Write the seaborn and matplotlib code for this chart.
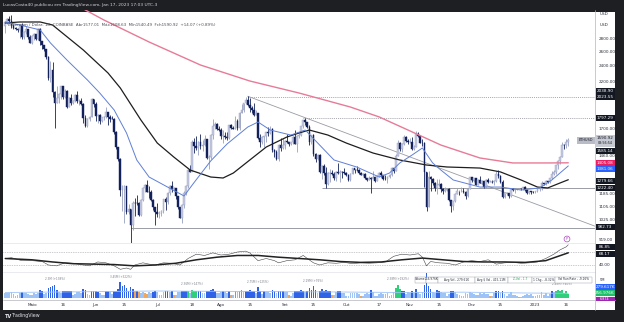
import numpy as np
import pandas as pd
import matplotlib
matplotlib.use("Agg")
import matplotlib.pyplot as plt
import seaborn as sns
from matplotlib.patches import Rectangle
from matplotlib.ticker import NullLocator

sns.set_theme(style="white")
plt.rcParams["font.family"] = ["DejaVu Sans"]

# ---------------- data (ETHUSD daily, 2022-04-18 .. 2023-01-17) ----------------
first_day = "2022-04-18"
ref_day = "2022-05-01"
first_open = 2990.0

apr_close = [3055,3104,3075,2985,2965,2935,2920,3008,2808,2890,2935,2815,2730]
apr_high = [3070,3125,3170,3180,3025,2980,2955,3025,3035,2915,2985,2945,2840]
apr_low = [2885,3033,3050,2960,2940,2925,2900,2800,2790,2790,2865,2790,2725]

may_close = [2825,2857,2780,2940,2750,2695,2635,2520,2245,2343,2080,1960,2010,2060,2145,2025,2090,1915,2015,1960,1975,2043,1972,1980,1943,1802,1725,1790,1812,1998,1940]
may_high = [2840,2885,2870,2955,2955,2760,2700,2640,2530,2460,2450,2085,2145,2070,2150,2145,2110,2100,2025,2050,1990,2055,2085,1995,2010,1955,1825,1800,1815,2015,2000]
may_low = [2710,2775,2765,2770,2700,2630,2600,2490,2220,2200,2020,1705,1950,1950,2000,1995,2010,1905,1910,1930,1945,1970,1960,1935,1930,1750,1710,1715,1770,1805,1915]

jun_close = [1820,1833,1775,1805,1806,1859,1813,1794,1790,1662,1531,1436,1207,1208,1236,1068,1087,995,1128,1127,1125,1052,1144,1224,1243,1199,1193,1144,1098,1068]
jun_high = [1970,1840,1840,1810,1815,1915,1860,1825,1815,1795,1675,1535,1440,1245,1245,1235,1120,1090,1138,1160,1175,1130,1150,1230,1250,1280,1235,1210,1150,1100]
jun_low = [1775,1755,1740,1760,1780,1800,1730,1765,1785,1650,1520,1420,1170,1075,1010,1060,1060,880,967,1050,1110,1045,1047,1140,1195,1195,1160,1140,1080,995]

jul_close = [1059,1067,1074,1150,1134,1187,1238,1217,1220,1168,1098,1038,1113,1191,1234,1354,1339,1580,1543,1521,1577,1538,1551,1599,1441,1450,1637,1726,1738,1696,1680]
jul_high = [1125,1075,1080,1152,1165,1195,1240,1270,1230,1225,1170,1100,1120,1205,1245,1358,1390,1590,1615,1630,1582,1650,1590,1640,1600,1465,1645,1785,1765,1755,1725]
jul_low = [1040,1035,1045,1065,1085,1120,1175,1195,1200,1152,1090,1035,1007,1095,1175,1220,1335,1340,1480,1510,1470,1520,1500,1540,1435,1355,1435,1605,1690,1685,1675]

aug_close = [1633,1633,1618,1608,1731,1700,1696,1775,1700,1852,1880,1958,1985,1937,1900,1877,1833,1848,1613,1580,1620,1625,1664,1659,1697,1507,1491,1433,1552,1524,1554]
aug_high = [1700,1680,1665,1665,1735,1740,1725,1815,1790,1862,1940,1960,2020,2030,2010,1920,1955,1880,1850,1650,1630,1630,1670,1715,1720,1705,1515,1505,1560,1610,1615]
aug_low = [1600,1570,1605,1595,1605,1695,1695,1695,1680,1685,1850,1860,1945,1920,1860,1855,1820,1825,1605,1530,1560,1530,1580,1630,1650,1490,1450,1425,1423,1500,1520]

sep_close = [1587,1578,1556,1578,1618,1562,1630,1636,1718,1776,1760,1715,1574,1636,1473,1434,1471,1336,1377,1325,1253,1328,1329,1318,1295,1336,1331,1337,1335,1328]
sep_high = [1590,1645,1580,1580,1630,1680,1635,1660,1725,1780,1797,1765,1730,1640,1650,1480,1475,1475,1385,1395,1370,1335,1355,1350,1335,1340,1400,1350,1345,1365]
sep_low = [1515,1565,1545,1550,1560,1555,1490,1610,1630,1705,1735,1700,1550,1560,1455,1415,1430,1330,1285,1315,1220,1240,1265,1315,1280,1270,1320,1265,1295,1320]

oct_close = [1311,1276,1323,1362,1352,1351,1330,1316,1322,1292,1280,1295,1287,1297,1274,1306,1331,1311,1286,1282,1299,1314,1363,1345,1460,1565,1514,1555,1620,1589,1572]
oct_high = [1335,1320,1330,1365,1360,1380,1360,1335,1325,1330,1295,1305,1300,1340,1300,1310,1335,1340,1310,1310,1305,1320,1370,1365,1475,1590,1575,1565,1640,1625,1605]
oct_low = [1305,1270,1270,1320,1325,1345,1320,1310,1305,1287,1270,1275,1190,1290,1265,1270,1300,1300,1280,1275,1255,1295,1305,1330,1340,1455,1500,1490,1550,1575,1555]

nov_close = [1579,1520,1531,1645,1628,1570,1568,1335,1100,1298,1287,1257,1220,1242,1253,1215,1201,1211,1218,1142,1108,1135,1184,1205,1200,1205,1195,1170,1216,1297]
nov_high = [1610,1620,1550,1675,1670,1640,1600,1575,1335,1345,1305,1290,1265,1285,1285,1260,1225,1230,1225,1220,1145,1140,1190,1220,1205,1230,1220,1200,1225,1300]
nov_low = [1565,1510,1510,1530,1620,1565,1545,1230,1075,1100,1200,1240,1200,1185,1235,1195,1180,1195,1205,1135,1073,1085,1130,1180,1175,1195,1190,1150,1165,1215]

dec_close = [1275,1293,1242,1279,1260,1270,1232,1281,1265,1266,1263,1274,1320,1308,1266,1166,1186,1186,1168,1217,1211,1218,1218,1219,1218,1226,1212,1189,1200,1199,1196]
dec_high = [1300,1295,1295,1285,1305,1275,1270,1285,1295,1275,1280,1278,1345,1350,1310,1275,1190,1195,1192,1225,1220,1220,1225,1222,1222,1230,1235,1215,1205,1202,1205]
dec_low = [1265,1265,1240,1240,1255,1250,1225,1230,1260,1262,1260,1245,1265,1295,1260,1160,1160,1175,1160,1165,1200,1190,1210,1215,1210,1212,1205,1185,1185,1180,1192]

jan_close = [1200,1214,1214,1257,1251,1269,1264,1289,1320,1336,1388,1418,1451,1551,1549,1577.01,1590.92]
jan_high = [1203,1222,1220,1270,1260,1275,1270,1290,1345,1350,1390,1430,1460,1580,1560,1600,1608.63]
jan_low = [1191,1194,1205,1210,1245,1240,1260,1260,1285,1315,1320,1360,1395,1450,1515,1525,1540.49]

# volume in thousands of ETH
apr_vol = [330,300,280,350,250,150,170,300,380,330,300,270,200]
may_vol = [200,300,250,330,500,450,250,330,600,650,700,800,500,350,300,450,400,400,450,400,200,220,350,350,300,550,500,250,200,450,400]
jun_vol = [450,380,300,200,200,400,450,350,250,450,450,550,940,750,800,600,450,650,550,450,400,350,300,350,280,250,350,330,380,420]
jul_vol = [350,200,200,350,400,400,350,400,200,200,350,350,450,400,400,400,300,500,450,450,400,400,300,300,450,400,500,550,450,300,300]
aug_vol = [350,400,350,300,400,200,200,450,350,450,500,350,400,450,500,400,450,300,650,450,250,400,350,350,300,500,400,300,450,450,450]
sep_vol = [350,350,200,150,300,450,450,400,500,400,350,400,600,500,700,500,300,450,550,400,500,450,400,200,200,350,450,400,300,300]
oct_vol = [150,150,300,300,300,300,250,150,130,250,300,250,500,350,150,130,250,300,250,250,300,150,200,350,600,800,550,450,400,250,350]
nov_vol = [300,400,300,550,350,250,350,800,1480,700,550,350,300,500,400,350,300,300,150,250,450,400,350,250,200,150,150,300,250,350]
dec_vol = [300,250,200,200,300,250,300,250,250,130,130,300,450,450,300,450,250,150,250,350,200,200,150,80,80,120,200,250,200,250,120]
jan_vol = [100,180,200,350,200,300,150,250,400,350,400,500,450,500,300,400,257]

green_vol_days = ["2022-07-16","2022-07-18","2022-07-19","2022-07-20","2022-08-08","2022-08-10","2022-08-11",
                  "2022-10-25","2022-10-26","2022-10-27","2023-01-11","2023-01-12","2023-01-13","2023-01-14",
                  "2023-01-15","2023-01-16","2023-01-17"]
orange_vol_days = ["2022-06-20","2022-06-22","2022-06-25","2022-06-26","2022-07-09","2022-08-06","2022-09-03",
                   "2022-09-24","2022-10-08","2022-12-10","2022-12-24"]

# moving averages (day offset from 2022-05-01, price)
ma_fast_days = [-13,-6,4,9,17,27,33,40,46,51,57,66,74,79,87,95,105,110,116,126,133,140,147,158,169,174,179,185,190,195,199,205,218,228,238,247,253,261]
ma_fast_vals = [3059,3009,2927,2724,2480,2220,2066,1881,1657,1427,1299,1229,1170,1262,1420,1560,1712,1760,1684,1638,1684,1550,1427,1373,1299,1328,1404,1467,1525,1404,1350,1278,1229,1229,1209,1223,1278,1381.06]
ma_mid_days = [-13,-6,4,10,25,37,43,53,61,69,77,87,93,98,106,114,124,130,135,144,153,166,179,192,202,218,228,238,246,251,257,261]
ma_mid_vals = [3042,3059,3059,3009,2620,2308,2124,1780,1567,1451,1350,1299,1292,1328,1427,1533,1620,1657,1684,1638,1567,1483,1427,1388,1373,1365,1336,1278,1229,1223,1257,1279.66]
ma_slow_days = [14,26,35,57,82,106,130,155,169,183,199,218,234,251,261]
ma_slow_vals = [3551,3268,3093,2739,2412,2208,2066,1912,1810,1684,1550,1443,1404,1404,1405.08]

# oscillator (lower pane)
osc_days = [-13,-10,-5,0,5,8,12,16,20,25,28,32,36,40,43,46,48,50,54,57,60,64,68,72,76,80,84,88,92,96,100,104,106,110,114,118,120,124,128,132,134,137,140,144,148,152,156,160,164,168,172,176,180,184,188,190,192,194,198,202,206,210,214,218,222,226,230,234,238,242,246,250,254,257,260,261]
osc_vals = [55,57,50,50,48,40,38,45,44,40,38,47,45,38,30,33,30,40,45,42,40,45,44,40,55,65,62,68,63,65,70,72,68,50,55,50,45,50,52,62,55,45,40,45,44,46,43,45,44,45,47,60,65,63,66,58,38,48,45,44,40,47,50,48,52,42,45,46,44,45,47,55,65,75,82,86.85]
osc_ma_days = [-13,0,10,20,30,40,50,60,70,80,90,100,110,120,130,140,150,160,170,180,190,200,210,220,230,240,250,261]
osc_ma_vals = [55,52,47,43,42,41,38,40,44,52,58,62,62,58,55,52,48,46,47,52,56,52,48,47,47,46,50,68.17]
osc_levels = [70, 40]

vol_ma_days = [-13,30,60,90,120,150,180,210,240,261]
vol_ma_vals = [330,380,420,400,380,360,330,350,300,280]

# drawing tools
level_dotted = [(2023.55, "2022-08-14"), (1797.29, "2022-09-10")]
level_solid = [(1222.40, "2022-09-19"), (982.73, "2022-06-18")]
trend_days = [105, 274]
trend_prices = [2030, 990]

price_ticks = [919, 1025, 1105, 1185, 1460, 1700, 2200, 2400, 2600, 2800]
time_tick_dates = ["2022-05-01","2022-05-16","2022-06-01","2022-06-15","2022-07-01","2022-07-18","2022-08-01",
                   "2022-08-15","2022-09-01","2022-09-15","2022-10-01","2022-10-17","2022-11-01","2022-11-15",
                   "2022-12-01","2022-12-15","2023-01-01","2023-01-16"]
time_tick_labels = ["Maio","16","Jun","15","Jul","18","Ago","15","Set","15","Out","17","Nov","15","Dez","15","2023","16"]

vol_notes = [("2022-05-12", "2.3M (+138%)"), ("2022-06-13", "3.45M (+322%)"), ("2022-07-18", "2.36M (+147%)"),
             ("2022-08-19", "2.75M (+125%)"), ("2022-09-15", "2.29M (+76%)"), ("2022-10-26", "2.38M (+192%)"),
             ("2023-01-14", "2.48M (+40%)")]
stats_cells = ["Volume", "256.976K", "Avg Vol - 279.61K", "Avg $ Vol - 415.11M", "Z-Vol - 1.7",
               "1 Chg - -8.32%", "Vol Run Rate - -9.16%"]

# ---------------- assemble ----------------
close = np.array(apr_close + may_close + jun_close + jul_close + aug_close + sep_close + oct_close + nov_close + dec_close + jan_close, float)
high = np.array(apr_high + may_high + jun_high + jul_high + aug_high + sep_high + oct_high + nov_high + dec_high + jan_high, float)
low = np.array(apr_low + may_low + jun_low + jul_low + aug_low + sep_low + oct_low + nov_low + dec_low + jan_low, float)
vol = np.array(apr_vol + may_vol + jun_vol + jul_vol + aug_vol + sep_vol + oct_vol + nov_vol + dec_vol + jan_vol, float)
opens = np.concatenate([[first_open], close[:-1]])
dates = pd.date_range(first_day, periods=len(close), freq="D")
ref = pd.Timestamp(ref_day)
dnum = np.asarray((dates - ref).days, float)

def dd(s):
    return float((pd.Timestamp(s) - ref).days)

W, H = 624, 322
fig = plt.figure(figsize=(W / 100, H / 100), dpi=100, facecolor="#1e1f23")
fig.patches.append(Rectangle((3 / W, 12 / H), 612 / W, 298 / H, transform=fig.transFigure,
                             facecolor="white", edgecolor="none", zorder=-10))

def axes_px(x0, y0, x1, y1):
    a = fig.add_axes([x0 / W, 1 - y1 / H, (x1 - x0) / W, (y1 - y0) / H])
    a.set_facecolor("none")
    for s in a.spines.values():
        s.set_visible(False)
    return a

XL, XR = -14.1, 274.0
ax = axes_px(3, 10, 595, 243)
ax_osc = axes_px(3, 243, 595, 272)
ax_vol = axes_px(3, 272, 595, 298)

# ---- main price pane ----
ax.set_yscale("log")
ax.set_xlim(XL, XR)
ax.set_ylim(902.2, 3268.5)
bull_face, bull_edge, bear = "#c5cae2", "#98a0c0", "#13215a"
up = close >= opens
ax.vlines(dnum, low, high, colors=np.where(up, bull_edge, bear), lw=0.6, zorder=3)
ax.bar(dnum, np.maximum(np.abs(close - opens), 1.0), bottom=np.minimum(opens, close), width=0.85,
       color=np.where(up, bull_face, bear), edgecolor=np.where(up, bull_edge, bear), lw=0.3, zorder=4)

sns.lineplot(x=ma_slow_days, y=ma_slow_vals, ax=ax, color="#e77b97", lw=1.0, zorder=5)
sns.lineplot(x=ma_mid_days, y=ma_mid_vals, ax=ax, color="#1e1e1e", lw=0.9, zorder=5)
sns.lineplot(x=ma_fast_days, y=ma_fast_vals, ax=ax, color="#5f7fd6", lw=0.7, zorder=5)

for val, start in level_dotted:
    ax.hlines(val, dd(start), XR, colors="#8a8d96", linestyles=(0, (1, 1.3)), lw=0.6, zorder=2)
for val, start in level_solid:
    ax.hlines(val, dd(start), XR, colors="#8a8d96", lw=0.6, zorder=2)
ax.plot(trend_days, trend_prices, color="#9a9ca4", lw=0.6, zorder=2)

ax.yaxis.tick_right()
ax.set_yticks(price_ticks)
ax.set_yticklabels([f"{t:.2f}" for t in price_ticks])
ax.yaxis.set_minor_locator(NullLocator())
ax.tick_params(axis="y", length=0, pad=2.5, labelsize=3.0, labelcolor="#2a2e39")
ax.set_xticks([])
ax.set_xlabel("")
ax.set_ylabel("")

# ---- oscillator pane ----
ax_osc.set_xlim(XL, XR)
ax_osc.set_ylim(23.8, 90.8)
for lv in osc_levels:
    ax_osc.axhline(lv, color="#9598a1", lw=0.5, ls=(0, (1, 1.5)))
sns.lineplot(x=osc_days, y=osc_vals, ax=ax_osc, color="#444444", lw=0.4)
sns.lineplot(x=osc_ma_days, y=osc_ma_vals, ax=ax_osc, color="#222222", lw=1.1)
ax_osc.yaxis.tick_right()
ax_osc.set_yticks([40])
ax_osc.set_yticklabels(["40.00"])
ax_osc.tick_params(axis="y", length=0, pad=2.5, labelsize=3.0, labelcolor="#2a2e39")
ax_osc.set_xticks([])
ax_osc.set_xlabel("")
ax_osc.set_ylabel("")
ax_osc.spines["top"].set_visible(True)
ax_osc.spines["top"].set_color("#e0e3eb")
ax_osc.spines["top"].set_linewidth(0.5)

# ---- volume pane ----
ax_vol.set_xlim(XL, XR)
ax_vol.set_ylim(0, 1560)
vcol = np.where(vol >= 380, "#2f62e6", "#9dc3f7").astype(object)
gset = set(dd(s) for s in green_vol_days)
oset = set(dd(s) for s in orange_vol_days)
for i, dv in enumerate(dnum):
    if dv in gset:
        vcol[i] = "#2fcf7c"
    elif dv in oset:
        vcol[i] = "#f2a65a"
ax_vol.bar(dnum, vol, width=0.85, color=list(vcol), lw=0, zorder=3)
sns.lineplot(x=vol_ma_days, y=vol_ma_vals, ax=ax_vol, color="#9dc3f7", lw=0.6, zorder=4)
for ds, txt in vol_notes:
    i = int(np.where(dnum == dd(ds))[0][0])
    ax_vol.annotate(txt, xy=(dnum[i], vol[i]), xytext=(0, 2.5), textcoords="offset points",
                    ha="center", va="bottom", fontsize=2.0, color="#7b7e87", annotation_clip=False)
ax_vol.set_yticks([])
ax_vol.set_xticks([dd(s) for s in time_tick_dates])
ax_vol.set_xticklabels(time_tick_labels)
ax_vol.tick_params(axis="x", length=0, pad=3.5, labelsize=3.0, labelcolor="#2a2e39")
ax_vol.set_xlabel("")
ax_vol.set_ylabel("")
ax_vol.spines["top"].set_visible(True)
ax_vol.spines["top"].set_color("#e0e3eb")
ax_vol.spines["top"].set_linewidth(0.5)

# ---- frame lines ----
def fline(x0, y0, x1, y1, c="#b2b5be", lw=0.5):
    fig.add_artist(plt.Line2D([x0 / W, x1 / W], [1 - y0 / H, 1 - y1 / H], transform=fig.transFigure,
                              color=c, lw=lw, zorder=15))
fline(595, 10, 595, 310)
fline(3, 300, 615, 300)

def ftext(px, py, s, **kw):
    return fig.text(px / W, 1 - py / H, s, **kw)

def axis_tag(py, s, bg, fg="white", h=6.0, fs=3.0):
    fig.patches.append(Rectangle((595.5 / W, 1 - (py + h / 2) / H), 19 / W, h / H, transform=fig.transFigure,
                                 facecolor=bg, edgecolor="none", zorder=20))
    ftext(605, py, s, ha="center", va="center", fontsize=fs, color=fg, zorder=21)

ftext(600, 14, "USD", fontsize=3.0, color="#2a2e39", va="center")
ftext(600, 25, "USD", fontsize=3.0, color="#2a2e39", va="center")
axis_tag(91, "2038.90", "#131722")
axis_tag(97, "2023.55", "#131722")
axis_tag(118, "1797.29", "#131722")
fig.patches.append(Rectangle((595.5 / W, 1 - 146.5 / H), 19 / W, 12 / H, transform=fig.transFigure,
                             facecolor="#c7cad3", edgecolor="none", zorder=20))
ftext(605, 138, "1590.92", ha="center", va="center", fontsize=3.0, color="#131722", zorder=21)
ftext(605, 143.5, "03:56:54", ha="center", va="center", fontsize=2.4, color="#131722", zorder=21)
axis_tag(151, "1585.14", "#131722")
axis_tag(163, "1405.08", "#e91e63")
axis_tag(169, "1381.06", "#2962ff")
axis_tag(181, "1279.66", "#131722")
axis_tag(188, "1222.40", "#131722")
axis_tag(227, "982.73", "#131722")
axis_tag(247, "86.85", "#131722")
axis_tag(254, "68.17", "#131722")
ftext(600, 280, "5M", fontsize=2.6, color="#2a2e39", va="center")
axis_tag(287, "279.617K", "#2962ff")
axis_tag(293, "256.976K", "#1fbf6a")
axis_tag(299, "6.874", "#9c27b0", h=4.5, fs=2.4)

# ETHUSD tag
fig.patches.append(Rectangle((577 / W, 1 - 143.5 / H), 17.5 / W, 7 / H, transform=fig.transFigure,
                             facecolor="#b9bcc6", edgecolor="none", zorder=20))
ftext(585.8, 140, "ETHUSD", ha="center", va="center", fontsize=2.5, color="#131722", zorder=21)

# P marker
ftext(567, 239, "P", ha="center", va="center", fontsize=2.6, color="#ab47bc", zorder=21,
      bbox=dict(boxstyle="circle,pad=0.25", fc="white", ec="#ab47bc", lw=0.5))

# header/legend text
ftext(3, 5, "LucasCosta40 publicou em TradingView.com, Jan 17, 2023 17:03 UTC-3", fontsize=3.2,
      color="#d1d4dc", va="center")
ftext(8, 25.5, "Ethereum / Dólar, 1D, COINBASE  Abr1577.01  Máx1608.63  Mín1540.49  Fch1590.92  +14.07 (+0.89%)",
      fontsize=2.9, color="#4a4e59", va="center", zorder=30)

# stats table in volume pane
cell_x = [415, 426, 438, 475, 508, 532, 555]
cell_w = [11, 12, 37, 33, 24, 23, 37]
for cx, cw, s in zip(cell_x, cell_w, stats_cells):
    fig.patches.append(Rectangle((cx / W, 1 - 282.5 / H), cw / W, 6 / H, transform=fig.transFigure,
                                 facecolor="white", edgecolor="#9598a1", lw=0.3, zorder=20))
    ftext(cx + cw / 2, 279.5, s, ha="center", va="center", fontsize=2.1,
          color="#22ab5c" if s.startswith("Z-Vol") else "#2a2e39", zorder=21)

# footer
ftext(5, 316, "TV", fontsize=3.6, color="#e0e3eb", va="center", weight="bold")
ftext(12, 316, "TradingView", fontsize=3.4, color="#e0e3eb", va="center")

fig.savefig("out.png", dpi=100, facecolor=fig.get_facecolor())
